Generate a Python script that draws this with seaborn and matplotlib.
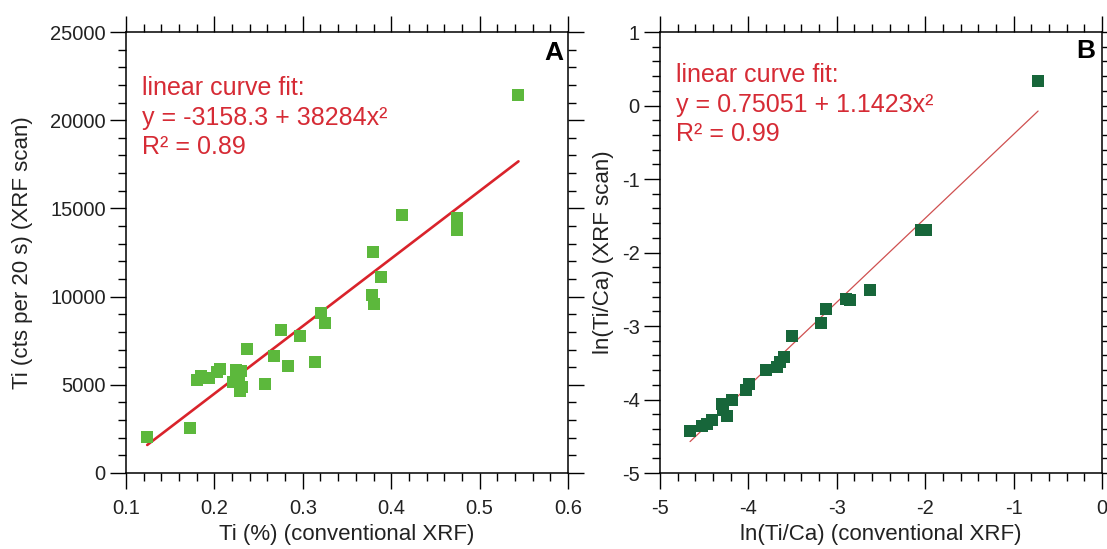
import matplotlib
matplotlib.use("Agg")
import matplotlib.pyplot as plt
from matplotlib.ticker import MultipleLocator
import seaborn as sns
import numpy as np
import pandas as pd

# ---------------- data ----------------
# Panel A: Ti (%) conventional XRF vs Ti counts (XRF scan)
ti_pct = [0.124, 0.172, 0.180, 0.185, 0.194, 0.203, 0.206, 0.221, 0.224, 0.228,
          0.2305, 0.2317, 0.2295, 0.237, 0.257, 0.267, 0.2757, 0.283, 0.297, 0.314,
          0.321, 0.3250, 0.378, 0.380, 0.388, 0.379, 0.4124, 0.475, 0.475, 0.544]
ti_cts = [2040, 2550, 5300, 5480, 5410, 5730, 5920, 5160, 5860, 5540,
          5780, 4880, 4630, 7050, 5070, 6620, 8090, 6090, 7770, 6310,
          9070, 8505, 10080, 9600, 11110, 12500, 14610, 14480, 13800, 21420]
fit_a = [-3158.3, 38284.0]   # intercept, slope
label_a = "linear curve fit:\ny = -3158.3 + 38284x\u00b2\nR\u00b2 = 0.89"

# Panel B: ln(Ti/Ca) conventional XRF vs ln(Ti/Ca) XRF scan
lnr_conv = [-4.660, -4.528, -4.471, -4.415, -4.301, -4.283, -4.245, -4.188, -4.026, -3.988,
            -3.800, -3.678, -3.641, -3.596, -3.502, -3.177, -3.120, -2.897, -2.848, -2.622,
            -2.044, -1.988, -0.723]
lnr_scan = [-4.429, -4.365, -4.328, -4.283, -4.065, -4.147, -4.229, -4.011, -3.865, -3.784,
            -3.603, -3.558, -3.490, -3.422, -3.140, -2.959, -2.763, -2.627, -2.650, -2.505,
            -1.689, -1.689, 0.333]
fit_b = [0.75051, 1.1423]
label_b = "linear curve fit:\ny = 0.75051 + 1.1423x\u00b2\nR\u00b2 = 0.99"

# ---------------- style ----------------
sns.set_style("ticks")
plt.rcParams["font.family"] = ["Liberation Sans", "DejaVu Sans"]
plt.rcParams["axes.unicode_minus"] = False

RED = "#d62b35"
LIGHT_GREEN = "#5cb83c"
DARK_GREEN = "#17663a"

fig = plt.figure(figsize=(11.07, 5.49), dpi=100)
ax_a = fig.add_axes([126 / 1107, 76 / 549, 442 / 1107, 441 / 549])
ax_b = fig.add_axes([660 / 1107, 76 / 549, 442 / 1107, 441 / 549])

df_a = pd.DataFrame({"x": ti_pct, "y": ti_cts})
df_b = pd.DataFrame({"x": lnr_conv, "y": lnr_scan})

sns.scatterplot(data=df_a, x="x", y="y", ax=ax_a, marker="s", s=66,
                color=LIGHT_GREEN, linewidth=0, zorder=3)
xa = np.array([min(ti_pct), max(ti_pct)])
ax_a.plot(xa, fit_a[0] + fit_a[1] * xa, color="#d9232b", lw=1.9, zorder=2)

sns.scatterplot(data=df_b, x="x", y="y", ax=ax_b, marker="s", s=66,
                color=DARK_GREEN, linewidth=0, zorder=3)
xb = np.array([min(lnr_conv), max(lnr_conv)])
ax_b.plot(xb, fit_b[0] + fit_b[1] * xb, color="#cf5050", lw=0.9, zorder=2)

ax_a.set_xlim(0.1, 0.6)
ax_a.set_ylim(0, 25000)
ax_a.xaxis.set_major_locator(MultipleLocator(0.1))
ax_a.xaxis.set_minor_locator(MultipleLocator(0.02))
ax_a.yaxis.set_major_locator(MultipleLocator(5000))
ax_a.yaxis.set_minor_locator(MultipleLocator(1000))

ax_b.set_xlim(-5, 0)
ax_b.set_ylim(-5, 1)
ax_b.xaxis.set_major_locator(MultipleLocator(1))
ax_b.xaxis.set_minor_locator(MultipleLocator(0.2))
ax_b.yaxis.set_major_locator(MultipleLocator(1))
ax_b.yaxis.set_minor_locator(MultipleLocator(0.2))

for ax in (ax_a, ax_b):
    for sp in ax.spines.values():
        sp.set_visible(True)
        sp.set_linewidth(1.1)
        sp.set_color("black")
    ax.tick_params(which="both", direction="out", top=True, right=True,
                   labeltop=False, labelright=False, colors="black", width=1.0)
    ax.tick_params(which="major", length=11.5)
    ax.tick_params(which="minor", length=5.5)
    ax.tick_params(axis="x", which="major", pad=7, labelsize=14.5, labelcolor="#222222")
    ax.tick_params(axis="y", which="major", pad=3, labelsize=14.5, labelcolor="#222222")

ax_a.set_xlabel("Ti (%) (conventional XRF)", fontsize=16, color="#222222")
ax_a.set_ylabel("Ti (cts per 20 s) (XRF scan)", fontsize=16, color="#222222")
ax_b.set_xlabel("ln(Ti/Ca) (conventional XRF)", fontsize=16, color="#222222")
ax_b.set_ylabel("ln(Ti/Ca) (XRF scan)", fontsize=16, color="#222222")

ax_a.xaxis.set_label_coords(0.5, -0.14)
ax_b.xaxis.set_label_coords(0.5, -0.14)
ax_a.yaxis.set_label_coords(-0.235, 0.5)
ax_b.yaxis.set_label_coords(-0.127, 0.5)
for lab in (ax_a.xaxis.label, ax_b.xaxis.label, ax_a.yaxis.label, ax_b.yaxis.label):
    lab.set_va("center")
    lab.set_ha("center")
    lab.set_rotation_mode("default")

ax_a.text(0.036, 0.90, label_a, transform=ax_a.transAxes, ha="left", va="top",
          fontsize=18, color=RED, linespacing=1.3)
ax_b.text(0.036, 0.93, label_b, transform=ax_b.transAxes, ha="left", va="top",
          fontsize=18, color=RED, linespacing=1.3)

ax_a.text(0.989, 0.98, "A", transform=ax_a.transAxes, ha="right", va="top",
          fontsize=19, fontweight="bold", color="black")
ax_b.text(0.984, 0.984, "B", transform=ax_b.transAxes, ha="right", va="top",
          fontsize=19, fontweight="bold", color="black")

fig.savefig("out.png", dpi=100)
